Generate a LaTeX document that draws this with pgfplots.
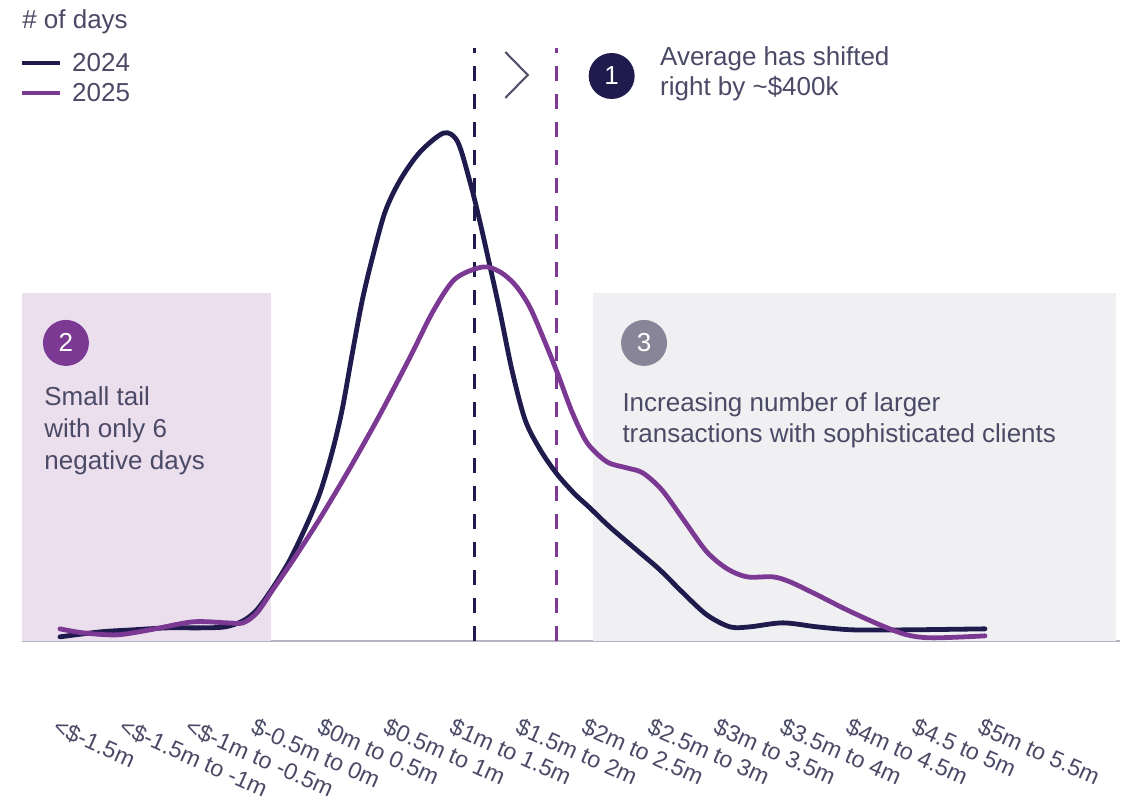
\documentclass[border=0pt]{standalone}
\usepackage{fontspec}
\setmainfont{Liberation Sans}
\usepackage{pgfplots}
\pgfplotsset{compat=1.18}

\definecolor{navy}{HTML}{1F1B4D}
\definecolor{plum}{HTML}{7B3993}
\definecolor{txt}{HTML}{4B4A66}
\definecolor{lilac}{HTML}{EBDFEE}
\definecolor{mist}{HTML}{F0F0F3}
\definecolor{pebble}{HTML}{878597}
\definecolor{rulegray}{HTML}{B5B2C2}
\definecolor{chev}{HTML}{55546A}

\newcommand\annofont{\fontsize{19.5}{23.5}\selectfont}

\begin{document}
\begin{tikzpicture}
\begin{axis}[
    scale only axis,
    width=823.5pt, height=444.75pt,
    xmin=-0.575, xmax=16.04,
    ymin=0, ymax=59.3,
    axis x line=bottom, axis y line=none,
    x axis line style={rulegray, line width=1.2pt, -},
    major tick length=0pt,
    ytick=\empty,
    xtick={0,...,14},
    xticklabels={{<\$-1.5m},{<\$-1.5m to -1m},{<\$-1m to -0.5m},{\$-0.5m to 0m},
        {\$0m to 0.5m},{\$0.5m to 1m},{\$1m to 1.5m},{\$1.5m to 2m},{\$2m to 2.5m},
        {\$2.5m to 3m},{\$3m to 3.5m},{\$3.5m to 4m},{\$4m to 4.5m},{\$4.5 to 5m},
        {\$5m to 5.5m}},
    xticklabel style={xshift=-1pt, yshift=-57pt, rotate=-24, anchor=north west,
        inner sep=0pt, text=txt, font=\fontsize{17.5}{20}\selectfont},
    clip=false,
]
% shaded callout zones
\fill[lilac] (axis cs:-0.575,0) rectangle (axis cs:3.19,34.8);
\fill[mist] (axis cs:8.07,0) rectangle (axis cs:15.98,34.8);

% averages
\addplot[navy, line width=2.2pt, dash pattern=on 11pt off 10pt, forget plot]
    coordinates {(6.28,0) (6.28,59.3)};
\addplot[plum, line width=2.2pt, dash pattern=on 11pt off 10pt, forget plot]
    coordinates {(7.52,0) (7.52,59.3)};

% 2024
\addplot[navy, line width=3.6pt, smooth, line cap=round] coordinates {
    (0,0.4) (0.61,0.9) (1.10,1.1) (1.62,1.3) (2.12,1.3) (2.50,1.4) (2.77,2.0)
    (2.98,3.1) (3.22,5.3) (3.48,8.1) (3.74,11.7) (3.94,14.9) (4.12,18.9)
    (4.27,23.1) (4.42,28.6) (4.57,33.9) (4.72,38.1) (4.92,42.9) (5.15,46.1)
    (5.45,48.9) (5.81,50.8) (6.02,49.9) (6.21,45.8) (6.36,41.8) (6.51,37.4)
    (6.66,32.9) (6.84,27.1) (7.04,22.1) (7.27,19.1) (7.52,16.7) (7.79,14.7)
    (8.02,13.3) (8.32,11.4) (8.78,8.8) (9.08,7.1) (9.43,4.8) (9.79,2.6)
    (10.14,1.4) (10.44,1.4) (10.94,1.8) (11.46,1.4) (12.00,1.1) (12.82,1.1)
    (14.00,1.2)
};
% 2025
\addplot[plum, line width=3.6pt, smooth, line cap=round] coordinates {
    (0,1.2) (0.35,0.8) (0.86,0.6) (1.36,1.1) (2.01,1.9) (2.53,1.8) (2.77,1.8)
    (2.98,2.8) (3.22,5.1) (3.53,8.1) (3.94,12.3) (4.39,17.3) (4.84,22.6)
    (5.30,28.4) (5.65,33.0) (5.98,36.2) (6.40,37.4) (6.66,36.9) (6.89,35.6)
    (7.11,33.4) (7.34,29.9) (7.54,26.6) (7.75,22.9) (7.98,19.8) (8.28,17.9)
    (8.58,17.3) (8.82,16.8) (9.11,15.1) (9.46,11.9) (9.79,8.9) (10.10,7.2)
    (10.40,6.4) (10.79,6.4) (11.05,5.9) (11.46,4.6) (11.91,3.1) (12.41,1.6)
    (12.82,0.6) (13.21,0.3) (14.00,0.5)
};

% title and legend
\node[anchor=base west, inner sep=0pt, text=txt, font=\annofont]
    at (axis cs:-0.575,61.2) {\# of days};
\draw[navy, line width=3.6pt] (axis cs:-0.575,57.8) -- (axis cs:0,57.8);
\node[anchor=base west, inner sep=0pt, text=txt, font=\annofont]
    at (axis cs:0.18,56.9) {2024};
\draw[plum, line width=3.6pt] (axis cs:-0.575,54.8) -- (axis cs:0,54.8);
\node[anchor=base west, inner sep=0pt, text=txt, font=\annofont]
    at (axis cs:0.18,53.9) {2025};

% callout 1
\draw[chev, line width=1.6pt] (axis cs:6.74,58.9) -- (axis cs:7.08,56.6) -- (axis cs:6.74,54.3);
\node[circle, fill=navy, minimum size=34.5pt, inner sep=0pt, text=white, font=\annofont]
    at (axis cs:8.35,56.5) {1};
\node[anchor=base west, inner sep=0pt, text=txt, font=\annofont]
    at (axis cs:9.08,57.5) {Average has shifted};
\node[anchor=base west, inner sep=0pt, text=txt, font=\annofont]
    at (axis cs:9.08,54.5) {right by \textasciitilde\$400k};

% callout 2
\node[circle, fill=plum, minimum size=34.5pt, inner sep=0pt, text=white, font=\annofont]
    at (axis cs:0.09,29.8) {2};
\node[anchor=base west, inner sep=0pt, text=txt, font=\annofont]
    at (axis cs:-0.24,23.5) {Small tail};
\node[anchor=base west, inner sep=0pt, text=txt, font=\annofont]
    at (axis cs:-0.24,20.3) {with only 6};
\node[anchor=base west, inner sep=0pt, text=txt, font=\annofont]
    at (axis cs:-0.24,17.1) {negative days};

% callout 3
\node[circle, fill=pebble, minimum size=34.5pt, inner sep=0pt, text=white, font=\annofont]
    at (axis cs:8.84,29.8) {3};
\node[anchor=base west, inner sep=0pt, text=txt, font=\annofont]
    at (axis cs:8.51,22.9) {Increasing number of larger};
\node[anchor=base west, inner sep=0pt, text=txt, font=\annofont]
    at (axis cs:8.51,19.8) {transactions with sophisticated clients};

\coordinate (bl) at (axis cs:-0.908,-16.7);
\coordinate (tr) at (axis cs:16.165,64.1);
\end{axis}
\pgfresetboundingbox
\useasboundingbox (bl) rectangle (tr);
\end{tikzpicture}
\end{document}
